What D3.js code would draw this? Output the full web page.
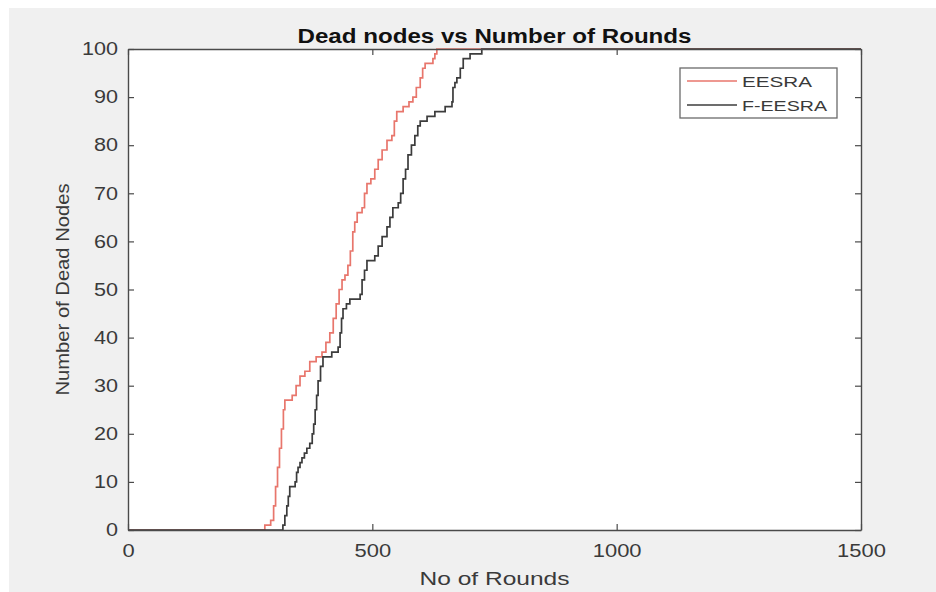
<!DOCTYPE html>
<html>
<head>
<meta charset="utf-8">
<script src="https://cdn.jsdelivr.net/npm/d3@7"></script>
<style>
  html, body { margin: 0; padding: 0; background: #ffffff; }
  svg { display: block; }
</style>
</head>
<body>
<svg id="chart" width="936" height="592"></svg>
<script>
// ---------------- data ----------------
const seriesNames = ["EESRA", "F-EESRA"];
const eesraRounds = [0, 280, 292, 298, 302, 306, 310, 314, 318, 321, 336, 344, 352, 362, 372, 385, 397, 405, 413, 420, 426, 432, 438, 444, 450, 455, 460, 464, 469, 479, 484, 489, 497, 505, 512, 520, 530, 540, 545, 550, 563, 575, 583, 590, 598, 603, 608, 624, 628, 632, 1500];
const eesraDead   = [0, 1, 2, 5, 9, 13, 17, 21, 25, 27, 28, 30, 32, 33, 35, 36, 37, 39, 41, 44, 47, 50, 52, 53, 55, 58, 62, 64, 66, 67, 70, 72, 73, 75, 77, 79, 81, 82, 85, 87, 88, 89, 90, 92, 94, 96, 97, 98, 99, 100, 100];
const feesraRounds = [0, 317, 321, 325, 328, 331, 342, 345, 348, 352, 356, 361, 366, 372, 377, 380, 383, 386, 389, 394, 399, 417, 430, 434, 437, 440, 447, 454, 475, 479, 484, 489, 505, 512, 520, 530, 536, 542, 553, 558, 563, 568, 573, 580, 587, 593, 598, 612, 628, 649, 663, 665, 669, 673, 680, 686, 700, 724, 1500];
const feesraDead   = [0, 1, 3, 5, 7, 9, 10, 12, 13, 14, 15, 16, 17, 18, 20, 22, 25, 28, 31, 34, 36, 37, 38, 41, 44, 46, 47, 48, 49, 52, 54, 56, 57, 59, 61, 63, 65, 67, 68, 70, 73, 75, 78, 80, 82, 84, 85, 86, 87, 88, 89, 92, 93, 94, 96, 98, 99, 100, 100];
const xTicks = [0, 500, 1000, 1500];
const yTicks = [0, 10, 20, 30, 40, 50, 60, 70, 80, 90, 100];
const titleText = "Dead nodes vs Number of Rounds";
const xLabelText = "No of Rounds";
const yLabelText = "Number of Dead Nodes";

// ---------------- layout ----------------
const svg = d3.select("#chart");
const L = 128, R = 861, T = 49, B = 530;
const font = "'Liberation Sans', Arial, Helvetica, sans-serif";
const axisColor = "#4a4a4a";
const textColor = "#3a3a3a";
const colors = ["#e8766c", "#3c3c3c"];

// figure background
svg.append("rect").attr("x", 9).attr("y", 8).attr("width", 936 - 9).attr("height", 592 - 8).attr("fill", "#f0f0f0");
// plot area
svg.append("rect").attr("x", L).attr("y", T).attr("width", R - L).attr("height", B - T).attr("fill", "#ffffff");

const x = d3.scaleLinear().domain([0, 1500]).range([L, R]);
const y = d3.scaleLinear().domain([0, 100]).range([B, T]);

// lines
const line = d3.line().x(d => x(d[0])).y(d => y(d[1])).curve(d3.curveStepAfter);
const series = [
  d3.zip(eesraRounds, eesraDead),
  d3.zip(feesraRounds, feesraDead)
];
const clip = svg.append("clipPath").attr("id", "clip").append("rect")
  .attr("x", L).attr("y", T - 1).attr("width", R - L).attr("height", B - T + 2);
series.forEach((s, i) => {
  svg.append("path").datum(s).attr("d", line)
    .attr("fill", "none").attr("stroke", colors[i]).attr("stroke-width", 1.7)
    .attr("clip-path", "url(#clip)");
});

// axes
function styleAxis(g, labels) {
  g.select(".domain").attr("stroke", axisColor).attr("stroke-width", 1.4);
  g.selectAll(".tick line").attr("stroke", axisColor).attr("stroke-width", 1.2);
  g.selectAll(".tick text").attr("fill", textColor).attr("font-family", font).attr("font-size", 18);
  if (!labels) g.selectAll(".tick text").remove();
}
const gx = svg.append("g").attr("transform", `translate(0,${B})`)
  .call(d3.axisBottom(x).tickValues(xTicks).tickSizeInner(-6).tickSizeOuter(0).tickPadding(14).tickFormat(d3.format("d")));
styleAxis(gx, true);
gx.selectAll(".tick text").attr("textLength", d => String(d).length * 12.2).attr("lengthAdjust", "spacingAndGlyphs");

const gxt = svg.append("g").attr("transform", `translate(0,${T})`)
  .call(d3.axisTop(x).tickValues(xTicks).tickSizeInner(-6).tickSizeOuter(0));
styleAxis(gxt, false);

const gy = svg.append("g").attr("transform", `translate(${L},0)`)
  .call(d3.axisLeft(y).tickValues(yTicks).tickSizeInner(-6).tickSizeOuter(0).tickPadding(10).tickFormat(d3.format("d")));
styleAxis(gy, true);
gy.selectAll(".tick text").attr("textLength", d => String(d).length * 12).attr("lengthAdjust", "spacingAndGlyphs");

const gyr = svg.append("g").attr("transform", `translate(${R},0)`)
  .call(d3.axisRight(y).tickValues(yTicks).tickSizeInner(-6).tickSizeOuter(0));
styleAxis(gyr, false);

// titles
svg.append("text").attr("x", (L + R) / 2).attr("y", 43).attr("text-anchor", "middle")
  .attr("font-family", font).attr("font-weight", "bold").attr("font-size", 20).attr("fill", "#111")
  .attr("textLength", 394).attr("lengthAdjust", "spacingAndGlyphs").text(titleText);
svg.append("text").attr("x", (L + R) / 2).attr("y", 585).attr("text-anchor", "middle")
  .attr("font-family", font).attr("font-size", 19).attr("fill", textColor)
  .attr("textLength", 150).attr("lengthAdjust", "spacingAndGlyphs").text(xLabelText);
svg.append("text").attr("transform", `translate(69,${(T + B) / 2}) rotate(-90)`).attr("text-anchor", "middle")
  .attr("font-family", font).attr("font-size", 19).attr("fill", textColor)
  .attr("textLength", 212).attr("lengthAdjust", "spacingAndGlyphs").text(yLabelText);

// legend
const lg = svg.append("g");
lg.append("rect").attr("x", 680).attr("y", 68).attr("width", 157).attr("height", 50)
  .attr("fill", "#ffffff").attr("stroke", "#6a6a6a").attr("stroke-width", 1.3);
const legendW = [70, 85];
seriesNames.forEach((name, i) => {
  const yy = 81 + i * 24;
  lg.append("line").attr("x1", 687).attr("x2", 737).attr("y1", yy).attr("y2", yy)
    .attr("stroke", colors[i]).attr("stroke-width", 1.7);
  lg.append("text").attr("x", 742).attr("y", yy + 5.5)
    .attr("font-family", font).attr("font-size", 15.5).attr("fill", textColor)
    .attr("textLength", legendW[i]).attr("lengthAdjust", "spacingAndGlyphs").text(name);
});
</script>
</body>
</html>
